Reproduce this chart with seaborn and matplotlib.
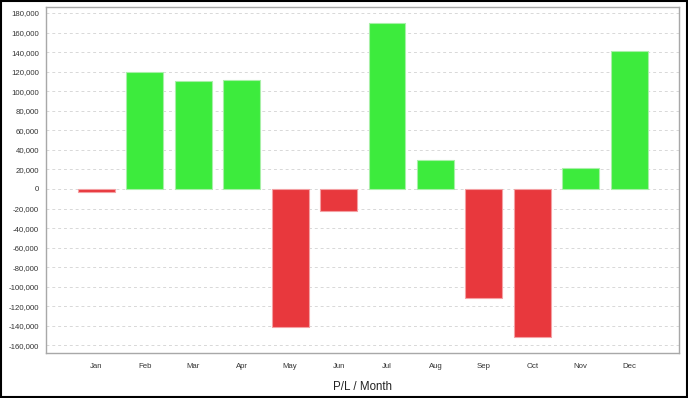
import pandas as pd
import seaborn as sns
import matplotlib.pyplot as plt
from matplotlib.ticker import FuncFormatter, MultipleLocator

# monthly profit / loss
months = ["Jan", "Feb", "Mar", "Apr", "May", "Jun",
          "Jul", "Aug", "Sep", "Oct", "Nov", "Dec"]
pl_values = [-3000, 120000, 110000, 111500, -141000, -22000,
             170000, 30000, -111000, -151000, 21000, 141000]

GREEN = "#3deb3d"
RED = "#e8383d"

df = pd.DataFrame({"month": months, "pl": pl_values})
df["sign"] = ["gain" if v >= 0 else "loss" for v in df["pl"]]

sns.set_style("white")
plt.rcParams["font.family"] = ["Liberation Sans", "DejaVu Sans"]

fig = plt.figure(figsize=(6.88, 3.98), dpi=100)
ax = fig.add_axes([0.0669, 0.1123, 0.987 - 0.0669, 0.9817 - 0.1123])

sns.barplot(data=df, x="month", y="pl", hue="sign",
            palette={"gain": GREEN, "loss": RED}, saturation=1,
            dodge=False, width=0.76, legend=False, ax=ax)

# lighter outline on bars, like the original renderer
for bar in ax.patches:
    if bar.get_height() == 0 and bar.get_width() == 0:
        continue
    bar.set_edgecolor("#a8f0a8" if bar.get_height() >= 0 else "#f4a0a3")
    bar.set_linewidth(0.8)

ax.set_xlim(-1.04, 12.03)
ax.set_ylim(-168000, 185800)
ax.yaxis.set_major_locator(MultipleLocator(20000))
ax.yaxis.set_major_formatter(FuncFormatter(lambda v, p: f"{int(v):,}"))

ax.grid(axis="y", color="#d8d8d8", linestyle=(0, (3, 3)), linewidth=0.7)
ax.set_axisbelow(True)

for s in ax.spines.values():
    s.set_color("#a8a8a8")
    s.set_linewidth(1.0)

ax.tick_params(axis="both", labelsize=5.6, colors="#333333",
               length=2, width=0.6, direction="out", pad=3)
ax.tick_params(axis="both", color="#999999")
ax.tick_params(axis="x", pad=5)

ax.set_ylabel("")
ax.set_xlabel("P/L / Month", fontsize=8.3, color="#222222", labelpad=8)

# thin black frame around the whole image
fig.patches.append(plt.Rectangle((0.001, 0.002), 0.997, 0.995,
                                 transform=fig.transFigure, fill=False,
                                 edgecolor="black", linewidth=1.5))

fig.savefig("out.png", dpi=100)
